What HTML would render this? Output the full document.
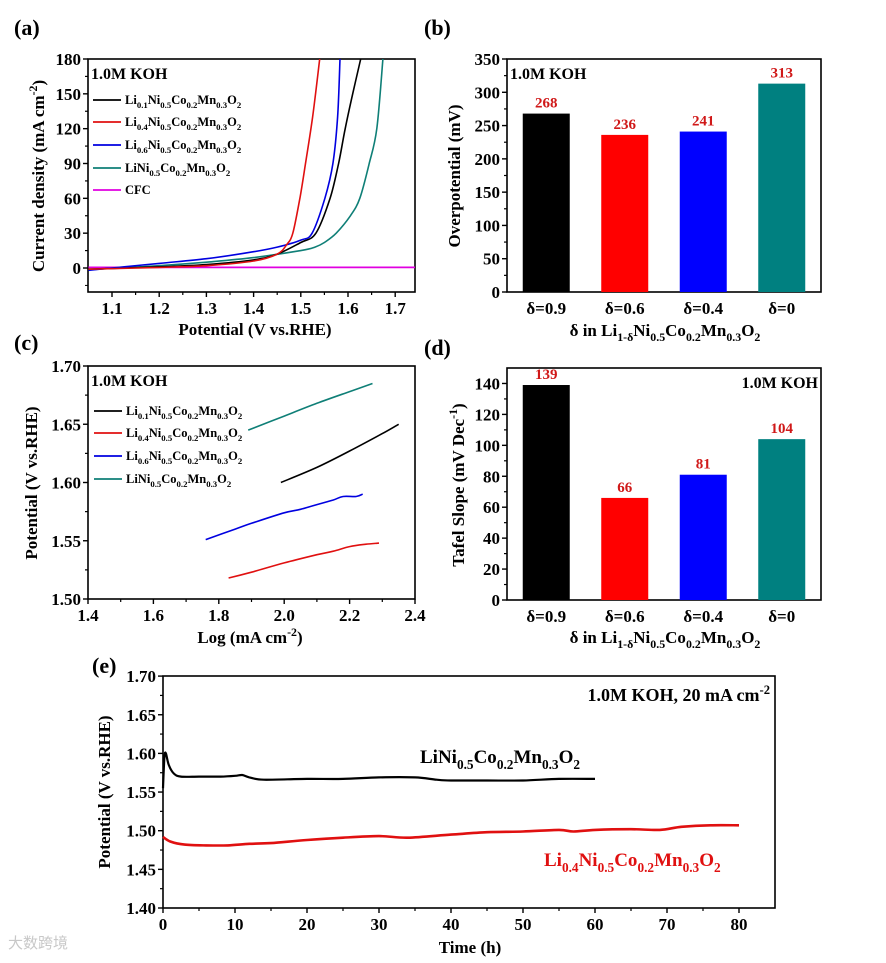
<!DOCTYPE html>
<html><head><meta charset="utf-8">
<style>
html,body{margin:0;padding:0;background:#fff;}
svg{display:block;font-family:"Liberation Serif","Times New Roman",serif;font-weight:bold;}
</style></head>
<body>
<svg id="fig" width="886" height="963" viewBox="0 0 886 963" xmlns="http://www.w3.org/2000/svg">
<defs>
<clipPath id="clipA"><rect x="88" y="59" width="327" height="233"/></clipPath>
</defs>
</svg>
<script>
// ---------- data ----------
const lsvV_Li01 = [1.05,1.2,1.3,1.4,1.45,1.5,1.532,1.562,1.58,1.594,1.61,1.627];
const lsvJ_Li01 = [-1,1,3,7,12,22,30,60,90,120,150,180];
const lsvV_Li04 = [1.05,1.2,1.3,1.4,1.45,1.47,1.483,1.498,1.51,1.525,1.54];
const lsvJ_Li04 = [-1,0.5,2,6,12,20,30,60,90,130,180];
const lsvV_Li06 = [1.05,1.1,1.2,1.3,1.4,1.45,1.5,1.524,1.551,1.568,1.578,1.583];
const lsvJ_Li06 = [-2,0,4,8,14,18,24,30,60,90,130,180];
const lsvV_Li10 = [1.05,1.2,1.3,1.4,1.5,1.53,1.55,1.575,1.605,1.625,1.645,1.661,1.674];
const lsvJ_Li10 = [-1.5,2,5,9,15,18,22,30,45,60,90,120,180];
const lsvV_CFC = [1.05,1.75];
const lsvJ_CFC = [0.5,0.5];

const barCategories = ["δ=0.9","δ=0.6","δ=0.4","δ=0"];
const overpotentials = [268,236,241,313];
const tafelSlopes = [139,66,81,104];
const barColors = ["#000000","#ff0000","#0000ff","#008080"];

const tafLog_Li01 = [1.99,2.1,2.2,2.3,2.35];
const tafV_Li01 = [1.600,1.613,1.627,1.642,1.650];
const tafLog_Li04 = [1.83,1.9,2.0,2.1,2.15,2.2,2.25,2.29];
const tafV_Li04 = [1.518,1.523,1.531,1.538,1.541,1.545,1.547,1.548];
const tafLog_Li06 = [1.76,1.85,1.9,2.0,2.05,2.1,2.15,2.18,2.22,2.24];
const tafV_Li06 = [1.551,1.560,1.565,1.574,1.577,1.581,1.585,1.588,1.588,1.590];
const tafLog_Li10 = [1.89,2.0,2.1,2.2,2.27];
const tafV_Li10 = [1.645,1.657,1.668,1.678,1.685];

const stabT_black = [0,0.2,0.4,0.8,1.5,2.5,5,8,10,11,12,14,20,25,30,35,38,40,45,50,55,60];
const stabV_black = [1.555,1.595,1.600,1.585,1.574,1.570,1.570,1.570,1.571,1.572,1.569,1.566,1.567,1.567,1.569,1.569,1.566,1.565,1.565,1.565,1.567,1.567];
const stabT_red = [0,1,3,6,9,12,15,20,25,30,34,40,45,50,55,57,60,65,69,72,76,80];
const stabV_red = [1.492,1.486,1.482,1.481,1.481,1.483,1.484,1.488,1.491,1.493,1.491,1.495,1.498,1.499,1.501,1.499,1.501,1.502,1.501,1.505,1.507,1.507];

const ticksA_x=[1.1,1.2,1.3,1.4,1.5,1.6,1.7];
const ticksA_y=[0,30,60,90,120,150,180];
const ticksB_y=[0,50,100,150,200,250,300,350];
const ticksC_x=[1.4,1.6,1.8,2.0,2.2,2.4];
const ticksC_y=[1.50,1.55,1.60,1.65,1.70];
const ticksD_y=[0,20,40,60,80,100,120,140];
const ticksE_x=[0,10,20,30,40,50,60,70,80];
const ticksE_y=[1.40,1.45,1.50,1.55,1.60,1.65,1.70];

// ---------- scales ----------
const xA=v=>112+(v-1.1)*472, yA=v=>268-v*209/180;
const yB=v=>292-v*233/350;
const xC=v=>88+(v-1.4)*327, yC=v=>599-(v-1.5)*1165;
const yD=v=>600-v*232/150;
const xE=v=>163+v*7.2, yE=v=>908-(v-1.4)*773;

const NS="http://www.w3.org/2000/svg";
const svg=document.getElementById('fig');
function mk(tag,attrs,parent){const e=document.createElementNS(NS,tag);for(const k in attrs)e.setAttribute(k,attrs[k]);(parent||svg).appendChild(e);return e;}
function fmlHTML(s,sub){return s.replace(/_\{([^}]*)\}/g,`<tspan dy="${sub}" font-size="70%">$1</tspan><tspan dy="-${sub}">&#8203;</tspan>`).replace(/\^\{([^}]*)\}/g,`<tspan dy="-7" font-size="70%">$1</tspan><tspan dy="7">&#8203;</tspan>`);}
function txt(x,y,s,size,anchor,fill,name,rot){
  const t=mk('text',{x:x,y:y,'font-size':size,'text-anchor':anchor||'start',fill:fill||'#000'});
  if(rot)t.setAttribute('transform',`rotate(-90 ${x} ${y})`);
  t.innerHTML=fmlHTML(s,Math.round(size*0.3));
  
  
  return t;
}
function box(x0,y0,x1,y1,name){
  const r=mk('rect',{x:x0,y:y0,width:x1-x0,height:y1-y0,fill:'none',stroke:'#000','stroke-width':1.6});
  
  
}
function yTicks(vals,f,x0,fmt,minorStep,name){
  vals.forEach(v=>{mk('line',{x1:x0-5,x2:x0,y1:f(v),y2:f(v),stroke:'#000','stroke-width':1.4});
    txt(x0-7,f(v)+6,fmt(v),17,'end','#000',name+'-tick-label');});
  if(minorStep){for(let i=0;i<vals.length-1;i++){const m=(vals[i]+vals[i+1])/2;mk('line',{x1:x0-3,x2:x0,y1:f(m),y2:f(m),stroke:'#000','stroke-width':1.2});}}
}
function xTicks(vals,f,y0,fmt,name){
  vals.forEach((v,i)=>{mk('line',{x1:f(v),x2:f(v),y1:y0,y2:y0+5,stroke:'#000','stroke-width':1.4});
    if(i<vals.length-1){const m=(v+vals[i+1])/2;mk('line',{x1:f(m),x2:f(m),y1:y0,y2:y0+3,stroke:'#000','stroke-width':1.2});}
    txt(f(v),y0+22,fmt(v),17,'middle','#000',name+'-tick-label');});
}
function smoothPath(pts){
  let d='M'+pts[0][0].toFixed(1)+','+pts[0][1].toFixed(1);
  for(let i=0;i<pts.length-1;i++){
    const p0=pts[Math.max(0,i-1)],p1=pts[i],p2=pts[i+1],p3=pts[Math.min(pts.length-1,i+2)];
    const c1=[p1[0]+(p2[0]-p0[0])/6,p1[1]+(p2[1]-p0[1])/6];
    const c2=[p2[0]-(p3[0]-p1[0])/6,p2[1]-(p3[1]-p1[1])/6];
    d+=` C${c1[0].toFixed(1)},${c1[1].toFixed(1)} ${c2[0].toFixed(1)},${c2[1].toFixed(1)} ${p2[0].toFixed(1)},${p2[1].toFixed(1)}`;
  }
  return d;
}
function line(xs,ys,fx,fy,color,name,clip,w){
  const pts=xs.map((v,i)=>[fx(v),fy(ys[i])]);
  const e=mk('path',{d:smoothPath(pts),fill:'none',stroke:color,'stroke-width':w||1.6,'stroke-linejoin':'round'});
  if(clip)e.setAttribute('clip-path','url(#'+clip+')');
  
  
}
function legend(x,y,color,label,name){
  mk('line',{x1:x,x2:x+28,y1:y,y2:y,stroke:color,'stroke-width':1.8});
  txt(x+32,y+4,label,12.5,'start','#000',name);
}

// ---------- panel labels ----------
txt(14,35,'(a)',22,'start','#000','panel-label-a');
txt(424,35,'(b)',22,'start','#000','panel-label-b');
txt(14,350,'(c)',22,'start','#000','panel-label-c');
txt(424,355,'(d)',22,'start','#000','panel-label-d');
txt(92,673,'(e)',22,'start','#000','panel-label-e');

// ---------- panel a ----------
box(88,59,415,292,'plot-area-a');
yTicks(ticksA_y,yA,88,v=>String(v),true,'y-axis-a');
mk('line',{x1:85,x2:88,y1:yA(-15),y2:yA(-15),stroke:'#000'});
xTicks(ticksA_x,xA,292,v=>v.toFixed(1),'x-axis-a');
line(lsvV_CFC,lsvJ_CFC,xA,yA,'#e000e0','series-cfc','clipA',1.8);
line(lsvV_Li10,lsvJ_Li10,xA,yA,'#0f7f77','series-lini','clipA');
line(lsvV_Li01,lsvJ_Li01,xA,yA,'#000','series-li01','clipA');
line(lsvV_Li06,lsvJ_Li06,xA,yA,'#0000e0','series-li06','clipA');
line(lsvV_Li04,lsvJ_Li04,xA,yA,'#e01010','series-li04','clipA');
txt(91,79,'1.0M KOH',16,'start','#000','annotation-koh-a');
legend(93,100,'#000','Li_{0.1}Ni_{0.5}Co_{0.2}Mn_{0.3}O_{2}','legend-li01-a');
legend(93,122,'#e01010','Li_{0.4}Ni_{0.5}Co_{0.2}Mn_{0.3}O_{2}','legend-li04-a');
legend(93,145,'#0000e0','Li_{0.6}Ni_{0.5}Co_{0.2}Mn_{0.3}O_{2}','legend-li06-a');
legend(93,168,'#0f7f77','LiNi_{0.5}Co_{0.2}Mn_{0.3}O_{2}','legend-lini-a');
legend(93,190,'#e000e0','CFC','legend-cfc-a');
txt(44,176,'Current density (mA cm^{-2})',17,'middle','#000','y-axis-title-a',true);
txt(255,335,'Potential (V vs.RHE)',17,'middle','#000','x-axis-title-a');

// ---------- panel b ----------
box(507,59,821,292,'plot-area-b');
yTicks(ticksB_y,yB,507,v=>String(v),true,'y-axis-b');
const catX=i=>507+314/4*(i+0.5);
barCategories.forEach((c,i)=>{
  const r=mk('rect',{x:catX(i)-23.5,y:yB(overpotentials[i]),width:47,height:292-yB(overpotentials[i]),fill:barColors[i]});
  
  
  txt(catX(i),yB(overpotentials[i])-6,String(overpotentials[i]),15,'middle','#d01818','bar-value-b');
  txt(catX(i),314,c,17,'middle','#000','x-tick-label-b');
});
txt(510,79,'1.0M KOH',16,'start','#000','annotation-koh-b');
txt(460,176,'Overpotential (mV)',17,'middle','#000','y-axis-title-b',true);
txt(665,336,'δ in Li_{1-δ}Ni_{0.5}Co_{0.2}Mn_{0.3}O_{2}',17,'middle','#000','x-axis-title-b');

// ---------- panel c ----------
box(88,366,415,599,'plot-area-c');
yTicks(ticksC_y,yC,88,v=>v.toFixed(2),true,'y-axis-c');
xTicks(ticksC_x,xC,599,v=>v.toFixed(1),'x-axis-c');
line(tafLog_Li10,tafV_Li10,xC,yC,'#0f7f77','tafel-lini');
line(tafLog_Li01,tafV_Li01,xC,yC,'#000','tafel-li01');
line(tafLog_Li06,tafV_Li06,xC,yC,'#0000e0','tafel-li06');
line(tafLog_Li04,tafV_Li04,xC,yC,'#e01010','tafel-li04');
txt(91,386,'1.0M KOH',16,'start','#000','annotation-koh-c');
legend(94,411,'#000','Li_{0.1}Ni_{0.5}Co_{0.2}Mn_{0.3}O_{2}','legend-li01-c');
legend(94,433,'#e01010','Li_{0.4}Ni_{0.5}Co_{0.2}Mn_{0.3}O_{2}','legend-li04-c');
legend(94,456,'#0000e0','Li_{0.6}Ni_{0.5}Co_{0.2}Mn_{0.3}O_{2}','legend-li06-c');
legend(94,479,'#0f7f77','LiNi_{0.5}Co_{0.2}Mn_{0.3}O_{2}','legend-lini-c');
txt(37,483,'Potential (V vs.RHE)',17,'middle','#000','y-axis-title-c',true);
txt(250,643,'Log (mA cm^{-2})',17,'middle','#000','x-axis-title-c');

// ---------- panel d ----------
box(507,368,821,600,'plot-area-d');
yTicks(ticksD_y,yD,507,v=>String(v),true,'y-axis-d');
barCategories.forEach((c,i)=>{
  const r=mk('rect',{x:catX(i)-23.5,y:yD(tafelSlopes[i]),width:47,height:600-yD(tafelSlopes[i]),fill:barColors[i]});
  
  
  txt(catX(i),yD(tafelSlopes[i])-6,String(tafelSlopes[i]),15,'middle','#d01818','bar-value-d');
  txt(catX(i),622,c,17,'middle','#000','x-tick-label-d');
});
txt(818,388,'1.0M KOH',16,'end','#000','annotation-koh-d');
txt(464,485,'Tafel Slope (mV Dec^{-1})',17,'middle','#000','y-axis-title-d',true);
txt(665,643,'δ in Li_{1-δ}Ni_{0.5}Co_{0.2}Mn_{0.3}O_{2}',17,'middle','#000','x-axis-title-d');

// ---------- panel e ----------
box(163,676,775,908,'plot-area-e');
yTicks(ticksE_y,yE,163,v=>v.toFixed(2),true,'y-axis-e');
xTicks(ticksE_x,xE,908,v=>String(v),'x-axis-e');
line(stabT_black,stabV_black,xE,yE,'#000','stability-lini',null,2.2);
line(stabT_red,stabV_red,xE,yE,'#e01010','stability-li04',null,2.6);
txt(770,701,'1.0M KOH, 20 mA cm^{-2}',18,'end','#000','annotation-conditions-e');
txt(420,763,'LiNi_{0.5}Co_{0.2}Mn_{0.3}O_{2}',19,'start','#000','label-lini-e');
txt(544,866,'Li_{0.4}Ni_{0.5}Co_{0.2}Mn_{0.3}O_{2}',19,'start','#e01010','label-li04-e');
txt(110,792,'Potential (V vs.RHE)',17,'middle','#000','y-axis-title-e',true);
txt(470,953,'Time (h)',17,'middle','#000','x-axis-title-e');
const wm=txt(8,948,'大数跨境',15,'start','#c8c8c8','watermark');
wm.setAttribute('font-family','"Noto Sans CJK SC",sans-serif');
wm.setAttribute('font-weight','normal');
</script>
</body></html>
